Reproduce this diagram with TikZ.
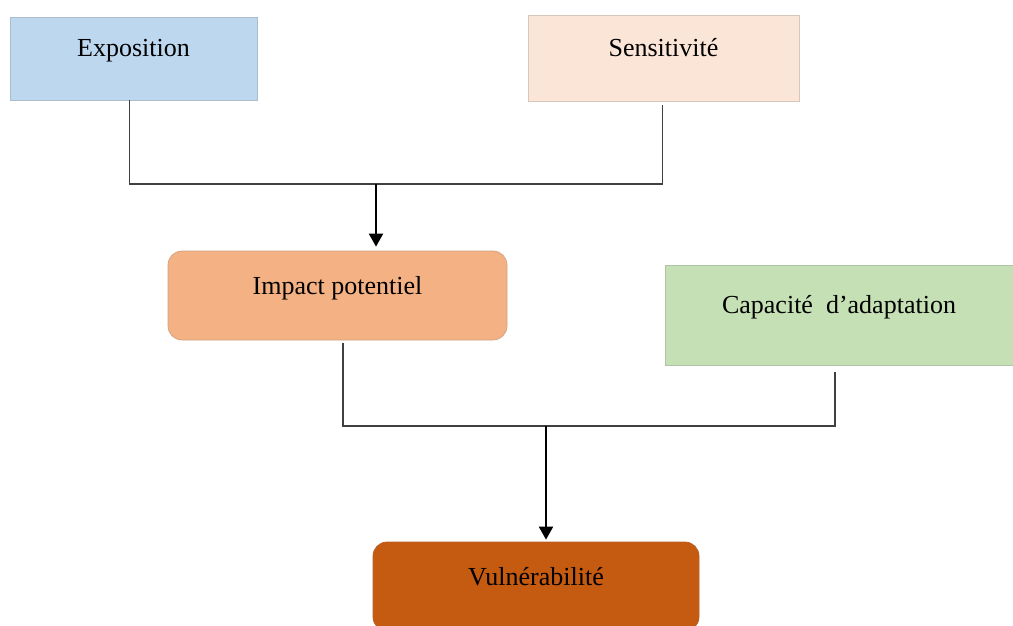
\documentclass[tikz,border=0pt]{standalone}
\usepackage{fontspec}
\setmainfont{Liberation Serif}
\usepackage{tikz}
\usetikzlibrary{arrows.meta,positioning}
\tikzset{>=Stealth}
\definecolor{expofill}{HTML}{BDD7EE}
\definecolor{sensifill}{HTML}{FBE5D6}
\definecolor{impactfill}{HTML}{F4B183}
\definecolor{capafill}{HTML}{C5E0B4}
\definecolor{vulnfill}{HTML}{C55A11}
\definecolor{linegray}{HTML}{404040}

\begin{document}
\begin{tikzpicture}[x=1pt,y=-1pt,
    box/.style={draw=gray!60, line width=0.7pt, inner sep=0pt,
        font=\fontsize{26}{30}\selectfont, text height=18pt, text depth=21pt},
    roundbox/.style={box, rounded corners=14pt},
    link/.style={draw=linegray, line width=1.3pt},
    arr/.style={->, >={Triangle[width=14pt,length=13pt]}, line width=2pt, black}]
    \useasboundingbox (0,0) rectangle (1013,626);
    \node[box,fill=expofill,draw=expofill!70!gray,minimum width=247,minimum height=83] at (133.5,58.5) (expo) {Exposition};
    \node[box,fill=sensifill,draw=sensifill!70!gray,minimum width=271,minimum height=86] at (663.5,58) (sensi) {Sensitivité};
    \node[roundbox,fill=impactfill,draw=impactfill!70!gray,minimum width=339,minimum height=89] at (337.5,295.5) (impact) {Impact potentiel};
    \node[box,fill=capafill,draw=capafill!70!gray,minimum width=348,minimum height=100] at (839,315) (capa) {Capacité~ d’adaptation};
    \node[roundbox,fill=vulnfill,draw=vulnfill!80!gray,minimum width=326,minimum height=89] at (536,586.5) (vuln) {Vulnérabilité};
    \coordinate (m1) at (376,184);
    \coordinate (m2) at (546,426);
    \draw[link] ([xshift=-4]expo.south) |- (m1) -| ([xshift=-1,yshift=-4]sensi.south);
    \draw[arr,shorten >=4pt] (m1) -- (m1 |- impact.north);
    \draw[link] ([xshift=5.5,yshift=-3]impact.south) |- (m2) -| ([xshift=-4,yshift=-7]capa.south);
    \draw[arr,shorten >=2pt] (m2) -- (m2 |- vuln.north);
\end{tikzpicture}
\end{document}
